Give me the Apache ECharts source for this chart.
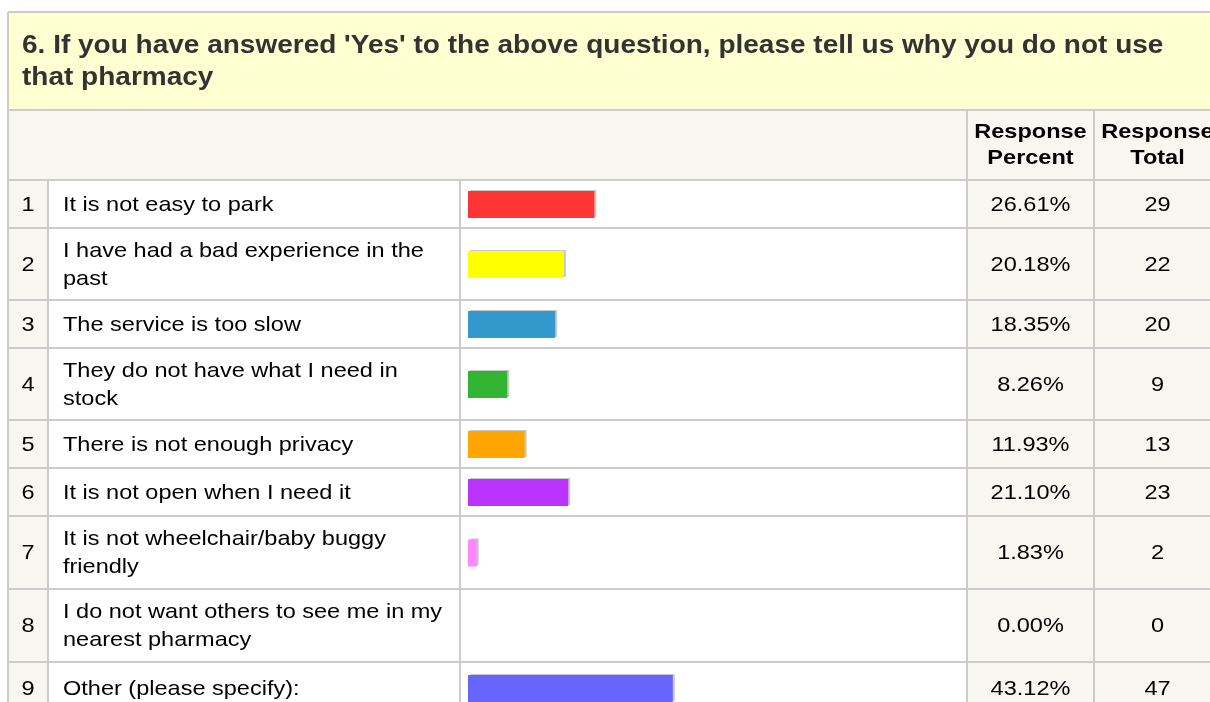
<!DOCTYPE html>
<html>
<head>
<meta charset="utf-8">
<title>Survey question 6</title>
<script src="https://cdn.jsdelivr.net/npm/echarts@6/dist/echarts.min.js"></script>
<style>
  html, body { margin: 0; padding: 0; background: #ffffff; }
  #chart { width: 1210px; height: 702px; }
</style>
</head>
<body>
<div id="chart"></div>
<script>
// Question text and answer data
const titleLines = [
  "6. If you have answered 'Yes' to the above question, please tell us why you do not use",
  "that pharmacy"
];
const headerPercent = ['Response', 'Percent'];
const headerTotal = ['Response', 'Total'];
const answers = [
  'It is not easy to park',
  'I have had a bad experience in the\npast',
  'The service is too slow',
  'They do not have what I need in\nstock',
  'There is not enough privacy',
  'It is not open when I need it',
  'It is not wheelchair/baby buggy\nfriendly',
  'I do not want others to see me in my\nnearest pharmacy',
  'Other (please specify):'
];
const responsePercent = [26.61, 20.18, 18.35, 8.26, 11.93, 21.10, 1.83, 0.00, 43.12];
const responseTotal = [29, 22, 20, 9, 13, 23, 2, 0, 47];
const barColors = ['#ff3535', '#ffff00', '#3399cc', '#33b533', '#ffa500', '#bb33ff', '#ff88ff', '#6666ff', '#6666ff'];

// Table geometry (pixels)
const rowEdges = [180, 228, 300, 348, 420, 468, 516, 589, 662, 714];
const colNum = 48, colLabel = 460, colBar = 967, colPct = 1094, colEnd = 1221;
const tableLeft = 8, tableTop = 12, titleBottom = 110, headerBottom = 180;
const barLeft = 468, barSpan = 475, barThickness = 27;
const stretch = 1.12;
const lineColor = '#cccccc';
const shadeBg = '#f7f7ef';
const titleBg = '#ffffd2';
const fontFamily = '"Liberation Sans", Arial, Helvetica, sans-serif';

function txt(text, x, y, opts) {
  opts = opts || {};
  return {
    type: 'text', x: x, y: y, scaleX: stretch, z: 5, silent: true,
    style: {
      text: text,
      fill: opts.fill || '#000000',
      fontSize: opts.size || 21,
      fontWeight: opts.weight || 'normal',
      fontFamily: fontFamily,
      align: opts.align || 'left',
      verticalAlign: 'middle',
      lineHeight: opts.lineHeight || 28
    }
  };
}
function rect(x, y, w, h, fill) {
  return { type: 'rect', z: 0, silent: true, shape: { x: x, y: y, width: w, height: h }, style: { fill: fill } };
}
function line(x1, y1, x2, y2) {
  return { type: 'line', z: 1, silent: true, shape: { x1: x1, y1: y1, x2: x2, y2: y2 }, style: { stroke: lineColor, lineWidth: 2 } };
}

const graphics = [];
const lastRow = rowEdges[rowEdges.length - 1];
// backgrounds
graphics.push(rect(tableLeft, tableTop, colEnd - tableLeft, titleBottom - tableTop, titleBg));
graphics.push(rect(tableLeft, titleBottom, colEnd - tableLeft, headerBottom - titleBottom, shadeBg));
graphics.push(rect(tableLeft, headerBottom, colNum - tableLeft, lastRow - headerBottom, shadeBg));
graphics.push(rect(colBar, headerBottom, colEnd - colBar, lastRow - headerBottom, shadeBg));
// borders
graphics.push(line(tableLeft, tableTop, colEnd, tableTop));
graphics.push(line(tableLeft, tableTop, tableLeft, lastRow));
graphics.push(line(tableLeft, titleBottom, colEnd, titleBottom));
rowEdges.forEach(function (y) { graphics.push(line(tableLeft, y, colEnd, y)); });
graphics.push(line(colNum, headerBottom, colNum, lastRow));
graphics.push(line(colLabel, headerBottom, colLabel, lastRow));
graphics.push(line(colBar, titleBottom, colBar, lastRow));
graphics.push(line(colPct, titleBottom, colPct, lastRow));
graphics.push(line(colEnd, titleBottom, colEnd, lastRow));

// title
graphics.push(txt(titleLines[0], 22, 46, { size: 25, weight: 'bold', fill: '#333333' }));
graphics.push(txt(titleLines[1], 22, 78, { size: 25, weight: 'bold', fill: '#333333' }));
// column headers
graphics.push(txt(headerPercent.join('\n'), (colBar + colPct) / 2, 145, { weight: 'bold', align: 'center', lineHeight: 26 }));
graphics.push(txt(headerTotal.join('\n'), (colPct + colEnd) / 2, 145, { weight: 'bold', align: 'center', lineHeight: 26 }));

// one text row and one single-bar grid per answer
const grids = [], xAxes = [], yAxes = [], series = [];
answers.forEach(function (label, i) {
  const top = rowEdges[i], h = rowEdges[i + 1] - top, mid = top + h / 2;
  graphics.push(txt(String(i + 1), (tableLeft + colNum) / 2, mid + 1, { align: 'center' }));
  graphics.push(txt(label, 63, mid + 1));
  graphics.push(txt(responsePercent[i].toFixed(2) + '%', (colBar + colPct) / 2, mid + 1, { align: 'center' }));
  graphics.push(txt(String(responseTotal[i]), (colPct + colEnd) / 2, mid + 1, { align: 'center' }));

  grids.push({ left: barLeft, width: barSpan, top: mid + 0.5 - barThickness / 2, height: barThickness });
  xAxes.push({ type: 'value', gridIndex: i, min: 0, max: 100, show: false });
  yAxes.push({ type: 'category', gridIndex: i, data: [label], show: false });
  series.push({
    type: 'bar', xAxisIndex: i, yAxisIndex: i, barWidth: barThickness, z: 3,
    data: [responsePercent[i]],
    itemStyle: {
      color: barColors[i],
      shadowColor: '#c8c8c8', shadowBlur: 0, shadowOffsetX: 2, shadowOffsetY: -1
    },
    emphasis: { disabled: true },
    silent: true
  });
});

const chart = echarts.init(document.getElementById('chart'), null, { renderer: 'canvas' });
chart.setOption({
  animation: false,
  backgroundColor: '#ffffff',
  grid: grids,
  xAxis: xAxes,
  yAxis: yAxes,
  series: series,
  graphic: graphics
});
</script>
</body>
</html>
